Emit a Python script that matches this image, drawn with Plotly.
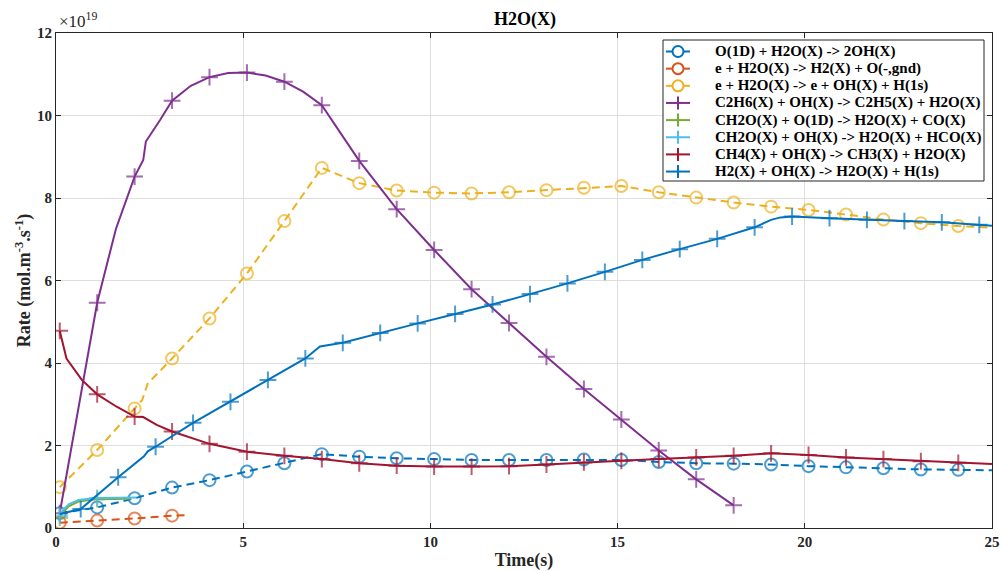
import plotly.graph_objects as go

SCALE_EXP = 19  # values below are in units of 1e19

# O(1D) + H2O(X) -> 2OH(X)
t_o1d = [0.1, 1.1, 2.1, 3.1, 4.1, 5.1, 6.1, 7.1, 8.1, 9.1, 10.1, 11.1, 12.1, 13.1, 14.1,
         15.1, 16.1, 17.1, 18.1, 19.1, 20.1, 21.1, 22.1, 23.1, 24.1, 25.0]
v_o1d = [0.36, 0.50, 0.72, 0.98, 1.16, 1.37, 1.57, 1.79, 1.73, 1.69, 1.67, 1.65, 1.65, 1.65, 1.66,
         1.65, 1.60, 1.57, 1.56, 1.54, 1.50, 1.47, 1.45, 1.42, 1.41, 1.40]

# e + H2O(X) -> H2(X) + O(-,gnd)
t_eh2 = [0.1, 1.1, 2.1, 3.1, 3.5]
v_eh2 = [0.13, 0.18, 0.23, 0.30, 0.31]

# e + H2O(X) -> e + OH(X) + H(1s)
t_eoh = [0.1, 1.1, 2.1, 2.3, 2.45, 3.1, 4.1, 5.1, 6.1, 7.1, 8.1, 9.1, 10.1, 11.1, 12.1, 13.1,
         14.1, 15.1, 16.1, 17.1, 18.1, 19.1, 20.1, 21.1, 22.1, 23.1, 24.1, 25.0]
v_eoh = [0.99, 1.89, 2.90, 3.10, 3.50, 4.11, 5.08, 6.17, 7.44, 8.73, 8.36, 8.18, 8.13, 8.11, 8.14, 8.19,
         8.25, 8.29, 8.14, 8.01, 7.89, 7.79, 7.71, 7.60, 7.48, 7.39, 7.32, 7.28]

# C2H6(X) + OH(X) -> C2H5(X) + H2O(X)
t_c2h6 = [0.1, 0.6, 1.1, 1.6, 2.1, 2.33, 2.4, 2.78, 3.1, 3.6, 4.1, 4.6, 5.1, 5.6, 6.1, 6.6, 7.1,
          8.1, 9.1, 10.1, 11.1, 12.1, 13.1, 14.1, 15.1, 16.1, 17.1, 18.1]
v_c2h6 = [0.36, 2.90, 5.46, 7.25, 8.52, 8.92, 9.37, 9.89, 10.36, 10.72, 10.93, 11.03, 11.04, 10.97, 10.82, 10.58, 10.25,
          8.90, 7.73, 6.74, 5.79, 4.97, 4.15, 3.37, 2.63, 1.88, 1.18, 0.55]

# CH2O(X) + O(1D) -> H2O(X) + CO(X)
t_ch2o_o = [0.1, 0.2, 0.35, 0.6, 1.1, 1.6, 2.0]
v_ch2o_o = [0.25, 0.40, 0.53, 0.64, 0.70, 0.71, 0.71]

# CH2O(X) + OH(X) -> H2O(X) + HCO(X)
t_ch2o_oh = [0.1, 0.2, 0.35, 0.6, 1.1, 1.6, 2.15]
v_ch2o_oh = [0.30, 0.45, 0.58, 0.68, 0.73, 0.74, 0.74]

# CH4(X) + OH(X) -> CH3(X) + H2O(X)
t_ch4 = [0.1, 0.28, 0.69, 1.1, 1.62, 2.1, 2.33, 2.69, 3.1, 4.1, 5.1, 6.1, 7.1, 8.1, 9.1, 10.1,
         11.1, 12.1, 13.1, 14.1, 15.1, 16.1, 17.1, 18.1, 19.1, 20.1, 21.1, 22.1, 23.1, 24.1, 25.0]
v_ch4 = [4.78, 4.11, 3.59, 3.24, 2.94, 2.70, 2.69, 2.50, 2.34, 2.04, 1.85, 1.75, 1.67, 1.57, 1.51, 1.49,
         1.49, 1.50, 1.54, 1.59, 1.63, 1.67, 1.71, 1.75, 1.81, 1.77, 1.71, 1.67, 1.62, 1.58, 1.55]

# H2(X) + OH(X) -> H2O(X) + H(1s)
t_h2 = [0.1, 0.66, 1.66, 2.35, 2.45, 2.66, 3.66, 4.66, 5.66, 6.66, 7.05, 7.66, 8.66, 9.66, 10.66,
        11.66, 12.66, 13.66, 14.66, 15.66, 16.66, 17.66, 18.66, 19.1, 19.35, 19.66, 20.66, 21.66,
        22.66, 23.66, 24.66, 25.0]
v_h2 = [0.34, 0.46, 1.23, 1.74, 1.86, 1.97, 2.55, 3.06, 3.59, 4.11, 4.40, 4.49, 4.73, 4.96, 5.19,
        5.42, 5.67, 5.93, 6.21, 6.50, 6.76, 7.01, 7.29, 7.47, 7.53, 7.55, 7.51, 7.47,
        7.44, 7.41, 7.35, 7.33]

labels = [
    "O(1D) + H2O(X) -> 2OH(X)",
    "e + H2O(X) -> H2(X) + O(-,gnd)",
    "e + H2O(X) -> e + OH(X) + H(1s)",
    "C2H6(X) + OH(X) -> C2H5(X) + H2O(X)",
    "CH2O(X) + O(1D) -> H2O(X) + CO(X)",
    "CH2O(X) + OH(X) -> H2O(X) + HCO(X)",
    "CH4(X) + OH(X) -> CH3(X) + H2O(X)",
    "H2(X) + OH(X) -> H2O(X) + H(1s)",
]

series = [
    (t_o1d, v_o1d, "#0072BD", "circle-open", "8px,5px", 0.1),
    (t_eh2, v_eh2, "#D95319", "circle-open", "8px,5px", 0.1),
    (t_eoh, v_eoh, "#EDB120", "circle-open", "8px,5px", 0.1),
    (t_c2h6, v_c2h6, "#7E2F8E", "cross-thin-open", "solid", 0.1),
    (t_ch2o_o, v_ch2o_o, "#77AC30", "cross-thin-open", "solid", 0.1),
    (t_ch2o_oh, v_ch2o_oh, "#4DBEEE", "cross-thin-open", "solid", 0.1),
    (t_ch4, v_ch4, "#A2142F", "cross-thin-open", "solid", 0.1),
    (t_h2, v_h2, "#0072BD", "cross-thin-open", "solid", 0.66),
]

W, H = 1000, 571
ML, MR, MT, MB = 56, 8, 33, 43
PW, PH = W - ML - MR, H - MT - MB


def px_x(p):
    return (p - ML) / PW


def px_y(p):
    return (H - MB - p) / PH


fig = go.Figure()
for (t, v, col, sym, dash, phase), name in zip(series, labels):
    sizes = []
    for tt in t:
        k = tt - phase
        sizes.append(12 if abs(k - round(k)) < 0.02 and k > -0.01 else 0)
    fig.add_trace(go.Scatter(
        x=t, y=v, name=name, mode="lines+markers", showlegend=False,
        line=dict(color=col, width=2, dash=dash),
        marker=dict(symbol=sym, size=sizes, color=col, line=dict(color=col, width=2)),
    ))

font_family = "Liberation Serif, Times New Roman, serif"
axis_common = dict(
    showline=True, linecolor="#262626", linewidth=1, mirror="ticks",
    ticks="inside", ticklen=5, tickcolor="#262626",
    showgrid=True, gridcolor="#dedede", gridwidth=1,
    zeroline=False,
    tickfont=dict(family=font_family, size=15, color="#262626", weight="bold"),
)

fig.update_layout(
    width=W, height=H,
    margin=dict(l=ML, r=MR, t=MT, b=MB, autoexpand=False),
    paper_bgcolor="white", plot_bgcolor="white",
    title=dict(text="<b>H2O(X)</b>", x=0.525, xanchor="center", y=1 - 19 / H, yanchor="middle",
               font=dict(family=font_family, size=18, color="black")),
    xaxis=dict(range=[0, 25], tickvals=[0, 5, 10, 15, 20, 25],
               title=dict(text="<b>Time(s)</b>", standoff=8,
                          font=dict(family=font_family, size=18, color="#262626")),
               **axis_common),
    yaxis=dict(range=[0, 12], tickvals=[0, 2, 4, 6, 8, 10, 12],
               title=dict(text="<b>Rate (mol.m<sup>-3</sup>.s<sup>-1</sup>)</b>", standoff=1,
                          font=dict(family=font_family, size=18, color="#262626")),
               **axis_common),
    showlegend=False,
)

fig.add_annotation(text="×10<sup>%d</sup>" % SCALE_EXP, xref="paper", yref="paper",
                   x=px_x(57), y=1.0, xanchor="left", yanchor="bottom", showarrow=False,
                   font=dict(family=font_family, size=17, color="#262626"))

# manual legend box (MATLAB style)
LEG_L, LEG_R, LEG_T, LEG_B = 663, 984, 40, 181
ROW0, ROW_STEP = 51.5, 17.15
shapes = [dict(type="rect", xref="paper", yref="paper", layer="above",
               x0=px_x(LEG_L), x1=px_x(LEG_R), y0=px_y(LEG_B), y1=px_y(LEG_T),
               fillcolor="white", line=dict(color="#262626", width=1))]
for i, ((t, v, col, sym, dash, phase), name) in enumerate(zip(series, labels)):
    ry = ROW0 + i * ROW_STEP
    shapes.append(dict(type="line", xref="paper", yref="paper", layer="above",
                       x0=px_x(666), x1=px_x(690), y0=px_y(ry), y1=px_y(ry),
                       line=dict(color=col, width=2)))
    cx = 678
    if sym == "circle-open":
        shapes.append(dict(type="circle", xref="paper", yref="paper", layer="above",
                           x0=px_x(cx - 5.5), x1=px_x(cx + 5.5), y0=px_y(ry + 5.5), y1=px_y(ry - 5.5),
                           fillcolor="white", line=dict(color=col, width=2)))
    else:
        shapes.append(dict(type="line", xref="paper", yref="paper", layer="above",
                           x0=px_x(cx), x1=px_x(cx), y0=px_y(ry + 6.5), y1=px_y(ry - 6.5),
                           line=dict(color=col, width=2)))
    fig.add_annotation(text="<b>%s</b>" % name, xref="paper", yref="paper",
                       x=px_x(713), y=px_y(ry), xanchor="left", yanchor="middle",
                       showarrow=False,
                       font=dict(family=font_family, size=15, color="black"))
fig.update_layout(shapes=shapes)

fig.write_html("out.html", config={"displayModeBar": False},
               post_script="document.body.style.margin='0';document.body.style.padding='0';")
